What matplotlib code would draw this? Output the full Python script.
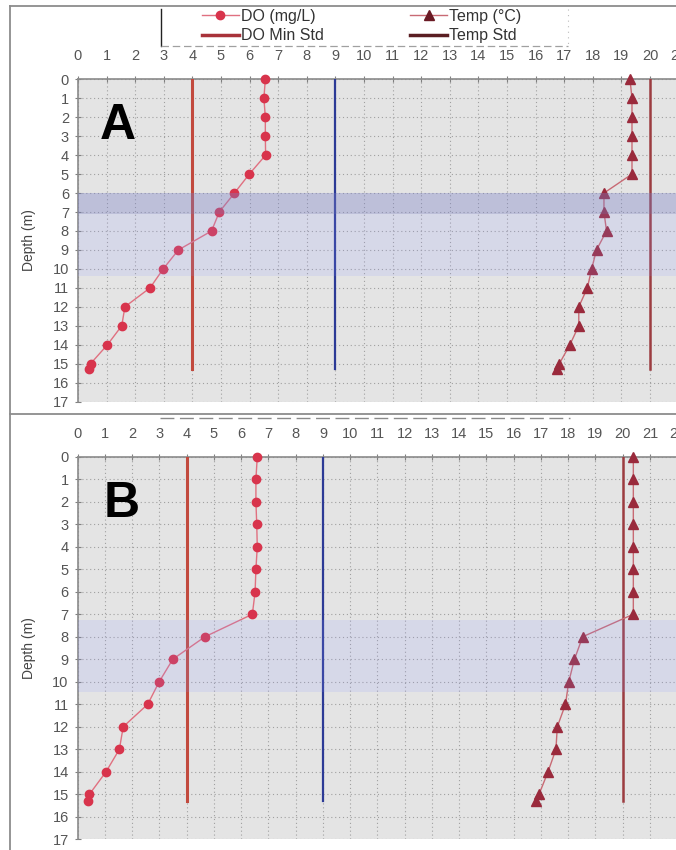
import matplotlib.pyplot as plt
from matplotlib.lines import Line2D

plt.rcParams['font.family'] = ['Liberation Sans', 'DejaVu Sans']

depth = [0, 1, 2, 3, 4, 5, 6, 7, 8, 9, 10, 11, 12, 13, 14, 15, 15.3]

do_a = [6.55, 6.5, 6.55, 6.55, 6.56, 5.99, 5.47, 4.94, 4.67, 3.51, 2.98, 2.52, 1.64, 1.53, 1.03, 0.44, 0.40]
temp_a = [19.3, 19.37, 19.37, 19.37, 19.37, 19.37, 18.39, 18.39, 18.48, 18.13, 17.96, 17.81, 17.51, 17.51, 17.2, 16.83, 16.74]

do_b = [6.59, 6.54, 6.54, 6.57, 6.59, 6.54, 6.51, 6.41, 4.67, 3.49, 2.99, 2.57, 1.67, 1.53, 1.04, 0.43, 0.37]
temp_b = [20.39, 20.39, 20.39, 20.39, 20.39, 20.39, 20.39, 20.39, 18.53, 18.23, 18.02, 17.9, 17.6, 17.55, 17.26, 16.93, 16.82]

do_min_std = 4
other_std = 9
temp_std = 20
std_depth = [0, 15.3]

# shaded depth bands (light, dark)
bands_a = [(7.1, 10.4, '#8c96ff', 0.15), (6.0, 7.1, '#7a80c8', 0.36)]
bands_b = [(7.25, 10.45, '#8c96ff', 0.15)]

x_ticks = list(range(0, 23))
y_ticks = list(range(0, 18))

W, H = 676, 850
fig = plt.figure(figsize=(W / 100, H / 100), dpi=100)


def draw_panel(rect, do, temp, bands, letter, letter_xy, pad):
    ax = fig.add_axes(rect)
    ax.set_facecolor('#e4e4e4')
    ax.set_xlim(0, 22)
    ax.set_ylim(17, 0)
    ax.set_xticks(x_ticks)
    ax.set_yticks(y_ticks)
    ax.xaxis.tick_top()
    ax.tick_params(axis='both', direction='inout', length=5, color='#808080',
                   labelcolor='#555555', labelsize=10.5)
    ax.tick_params(axis='x', pad=pad)
    ax.tick_params(axis='y', pad=4)
    ax.grid(True, linestyle=(0, (1, 2.5)), color='#a0a0a0', lw=0.8)
    for s in ['right', 'bottom']:
        ax.spines[s].set_visible(False)
    for s in ['top', 'left']:
        ax.spines[s].set_color('#8a8a8a')
        ax.spines[s].set_linewidth(1.2)

    ax.plot([do_min_std] * 2, std_depth, color='#c24a3e', lw=2.2, zorder=3)
    ax.plot([other_std] * 2, std_depth, color='#2c3a96', lw=1.6, zorder=3)
    ax.plot([temp_std] * 2, std_depth, color='#9c3c40', lw=1.8, zorder=3)

    ax.plot(do, depth, color='#e07080', lw=1.0, marker='o', markersize=6,
            markerfacecolor='#d8344c', markeredgecolor='#d8344c', zorder=4, clip_on=False)
    ax.plot(temp, depth, color='#c86a74', lw=1.0, marker='^', markersize=7,
            markerfacecolor='#9a2a3c', markeredgecolor='#9a2a3c', zorder=4, clip_on=False)

    for y0, y1, c, a in bands:
        ax.axhspan(y0, y1, color=c, alpha=a, lw=0, zorder=5)

    ax.text(letter_xy[0], letter_xy[1], letter, fontsize=36, fontweight='bold',
            ha='center', va='center', color='black', zorder=6)
    ax.set_ylabel('Depth (m)', fontsize=10, color='#444444')
    return ax


# panel A: data 0 at x=78px, 28.6 px per unit; depth 0..17 -> y 79.3..401.6
ax_a = draw_panel([78 / W, (H - 401.6) / H, 22 * 28.6 / W, 322.3 / H],
                  do_a, temp_a, bands_a, 'A', (1.4, 2.45), 9.5)
ax_a.yaxis.set_label_coords(-42 / 629.2, 0.5)

# panel B: data 0 at x=77.7px, 27.25 px per unit; depth 0..17 -> y 456.7..839.3
ax_b = draw_panel([77.7 / W, (H - 839.3) / H, 22 * 27.25 / W, 382.6 / H],
                  do_b, temp_b, bands_b, 'B', (1.63, 2.08), 8.5)
ax_b.yaxis.set_label_coords(-41.7 / 599.5, 0.5)

# legend (top of panel A)
handles = [
    Line2D([], [], color='#e07080', lw=1.0, marker='o', markersize=6,
           markerfacecolor='#d8344c', markeredgecolor='#d8344c'),
    Line2D([], [], color='#a8323a', lw=2.5),
    Line2D([], [], color='#c86a74', lw=1.0, marker='^', markersize=7,
           markerfacecolor='#6a1a24', markeredgecolor='#6a1a24'),
    Line2D([], [], color='#5a1e22', lw=2.5),
]
labels = ['DO (mg/L)', 'DO Min Std', 'Temp (°C)', 'Temp Std']
fig.legend(handles, labels, ncol=2, loc='center left',
           bbox_to_anchor=(202 / W, 1 - 26 / H), frameon=False,
           fontsize=11.5, handlelength=2.3, handletextpad=0.15,
           columnspacing=5.4, labelspacing=0.3, borderpad=0, borderaxespad=0,
           labelcolor='#333333')


# frame lines of the screenshot
def fline(x0, y0, x1, y1, **kw):
    fig.add_artist(Line2D([x0 / W, x1 / W], [1 - y0 / H, 1 - y1 / H], **kw))


fline(10, 6, 676, 6, color='#8c8c8c', lw=1.3)
fline(10, 6, 10, 850, color='#8c8c8c', lw=1.3)
fline(10, 414, 676, 414, color='#8c8c8c', lw=1.3)
fline(161, 9, 161, 46, color='#222222', lw=1.0)
fline(161, 46, 568, 46, color='#a0a0a0', lw=0.9, linestyle=(0, (6, 3)))
fline(568, 9, 568, 46, color='#bbbbbb', lw=0.8, linestyle=(0, (1, 4)))
fline(160, 418, 570, 418, color='#8a8a8a', lw=1.0, linestyle=(0, (10, 4)))

fig.savefig('out.png', dpi=100)
